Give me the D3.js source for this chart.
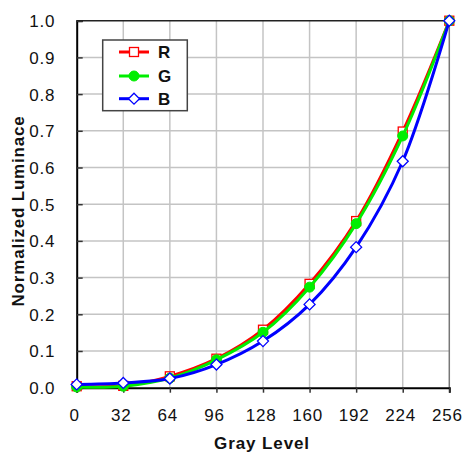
<!DOCTYPE html>
<html><head><meta charset="utf-8">
<script src="https://cdn.jsdelivr.net/npm/d3@7/dist/d3.min.js"></script>
<style>body{margin:0;background:#fff}svg{display:block}text{font-family:"Liberation Sans",Arial,sans-serif}</style>
</head><body><svg id="c" width="463" height="452"></svg>
<script>
const grayLevels = [0, 32, 64, 96, 128, 160, 192, 224, 256];
const seriesR = [0.004, 0.005, 0.031, 0.079, 0.158, 0.283, 0.454, 0.698, 1.0];
const seriesG = [0.002, 0.004, 0.026, 0.076, 0.151, 0.274, 0.447, 0.686, 1.0];
const seriesB = [0.009, 0.013, 0.025, 0.063, 0.127, 0.227, 0.383, 0.617, 1.0];
const seriesNames = ["R", "G", "B"];
const xTicks = [0, 32, 64, 96, 128, 160, 192, 224, 256];
const yTicks = [0, 0.1, 0.2, 0.3, 0.4, 0.5, 0.6, 0.7, 0.8, 0.9, 1.0];

const svg = d3.select("#c");
const L = 76.7, R = 449.3, T = 20.7, B = 387.7;
const x = d3.scaleLinear().domain([0, 256]).range([L, R]);
const y = d3.scaleLinear().domain([0, 1]).range([B, T]);

// grid
svg.append("g").selectAll("line").data(xTicks.slice(1, -1)).join("line")
  .attr("x1", d => x(d)).attr("x2", d => x(d)).attr("y1", T).attr("y2", B)
  .attr("stroke", "#c4c4c4").attr("stroke-width", 1.5);
svg.append("g").selectAll("line").data(yTicks.slice(1, -1)).join("line")
  .attr("x1", L).attr("x2", R).attr("y1", d => y(d)).attr("y2", d => y(d))
  .attr("stroke", "#c4c4c4").attr("stroke-width", 1.5);

// borders
svg.append("line").attr("x1", L).attr("x2", R).attr("y1", T).attr("y2", T).attr("stroke", "#222").attr("stroke-width", 1.5);
svg.append("line").attr("x1", R).attr("x2", R).attr("y1", T).attr("y2", B).attr("stroke", "#777").attr("stroke-width", 1.5);

// axes
const xAxis = d3.axisBottom(x).tickValues(xTicks).tickSize(5).tickPadding(16).tickFormat(d3.format("d"));
const gx = svg.append("g").attr("transform", `translate(0,${B})`).call(xAxis);
const yAxis = d3.axisLeft(y).tickValues(yTicks).tickSize(-6).tickPadding(21.5).tickFormat(d3.format(".1f"));
const gy = svg.append("g").attr("transform", `translate(${L},0)`).call(yAxis);
[gx, gy].forEach(g => {
  g.select(".domain").attr("stroke", "#000").attr("stroke-width", 2);
  g.selectAll(".tick line").attr("stroke", "#333").attr("stroke-width", 1.5);
  g.selectAll(".tick text").attr("font-size", 17).attr("fill", "#111")
    .attr("letter-spacing", 0.8)
    .style("font-family", '"Liberation Sans",Arial,sans-serif');
});
gx.selectAll(".tick text").attr("dx", -2.5);
gy.selectAll(".tick text").attr("dy", "0.35em");

// titles
svg.append("text").attr("x", 262).attr("y", 449).attr("text-anchor", "middle")
  .attr("font-size", 17).attr("font-weight", "bold").attr("letter-spacing", 0.9).attr("fill", "#111").text("Gray Level");
svg.append("text").attr("transform", `translate(24,211) rotate(-90)`).attr("text-anchor", "middle")
  .attr("font-size", 17).attr("font-weight", "bold").attr("letter-spacing", 0.8).attr("fill", "#111").text("Normalized Luminace");

const colors = ["#ff0000", "#00ee00", "#0000ff"];
const data = [seriesR, seriesG, seriesB];
const line = d3.line().x((d, i) => x(grayLevels[i])).y(d => y(d)).curve(d3.curveCatmullRom.alpha(0.5));

function marker(g, k, cx, cy) {
  if (k === 0) {
    g.append("rect").attr("x", cx - 4.5).attr("y", cy - 4.5).attr("width", 9).attr("height", 9)
      .attr("fill", "#fff").attr("stroke", colors[0]).attr("stroke-width", 1.3);
  } else if (k === 1) {
    g.append("circle").attr("cx", cx).attr("cy", cy).attr("r", 5).attr("fill", colors[1]).attr("stroke", colors[1]);
  } else {
    g.append("path").attr("d", `M${cx},${cy - 5.5}L${cx + 5.5},${cy}L${cx},${cy + 5.5}L${cx - 5.5},${cy}Z`)
      .attr("fill", "#fff").attr("stroke", colors[2]).attr("stroke-width", 1.3);
  }
}

data.forEach((s, k) => {
  const g = svg.append("g");
  g.append("path").datum(s).attr("d", line).attr("fill", "none").attr("stroke", colors[k]).attr("stroke-width", 3);
  s.forEach((v, i) => marker(g, k, x(grayLevels[i]), y(v)));
});

// legend
const lg = svg.append("g");
lg.append("rect").attr("x", 102.7).attr("y", 40).attr("width", 84.6).attr("height", 70.7)
  .attr("fill", "#fff").attr("stroke", "#444").attr("stroke-width", 1.5);
const rowsY = [52, 76, 98.7];
seriesNames.forEach((n, k) => {
  lg.append("line").attr("x1", 119).attr("x2", 149).attr("y1", rowsY[k]).attr("y2", rowsY[k])
    .attr("stroke", colors[k]).attr("stroke-width", 3);
  marker(lg, k, 134, rowsY[k]);
  lg.append("text").attr("x", 158).attr("y", rowsY[k]).attr("dy", "0.36em").attr("font-size", 17)
    .attr("font-weight", "bold").attr("fill", "#111").text(n);
});
</script></body></html>
